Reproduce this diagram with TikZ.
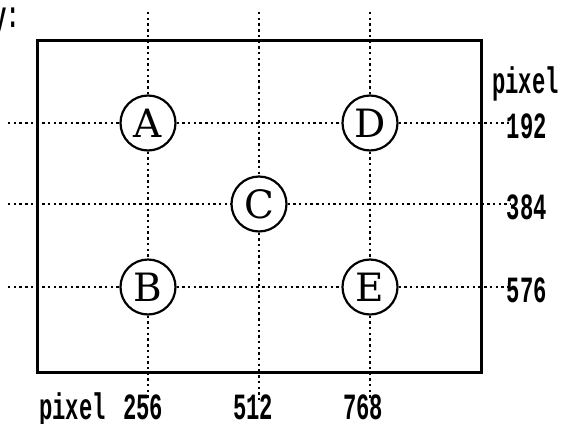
\documentclass[tikz,border=0pt]{standalone}
\usepackage{fontspec}
\newfontfamily\lblfont{Liberation Mono Bold}[FakeStretch=0.6]
\newfontfamily\ltrfont{DejaVu Serif}
\begin{document}
\begin{tikzpicture}[x=1pt,y=-1pt,
  grid/.style={line width=2.4pt,dash pattern=on 2.4pt off 3.3pt},
  spot/.style={circle,draw,line width=2.2pt,minimum size=55pt,inner sep=0pt,font=\ltrfont\fontsize{39}{39}\selectfont},
  lbl/.style={inner sep=0pt,font=\lblfont\fontsize{37}{37}\selectfont}]
\useasboundingbox (0,0) rectangle (561,423);
\clip (0,0) rectangle (561,423);
% frame
\draw[line width=3pt] (37,40) rectangle (481,372);
% nodes
\node[spot] (A) at (148,123) {A};
\node[spot] (B) at (148,287) {B};
\node[spot] (C) at (259,204) {C};
\node[spot] (D) at (370,123) {D};
\node[spot] (E) at (370,287) {E};
% labels
\node[lbl,anchor=east] (r1) at (547,126) {192};
\node[lbl,anchor=east] (r2) at (547,207) {384};
\node[lbl,anchor=east] (r3) at (547,290) {576};
\node[lbl,anchor=base east] (px) at (559,93) {pixel};
\node[lbl,anchor=base east] (yy) at (20,27) {y:};
\node[lbl,anchor=base west] (pb) at (39,419) {pixel};
\node[lbl,anchor=base] (b1) at (143,419) {256};
\node[lbl,anchor=base] (b2) at (253,419) {512};
\node[lbl,anchor=base] (b3) at (363,419) {768};
% free ends
\coordinate (t1) at (148,12); \coordinate (d1) at (148,401);
\coordinate (t2) at (259,12); \coordinate (d2) at (259,401);
\coordinate (t3) at (370,12); \coordinate (d3) at (370,401);
\coordinate (l1) at (8,123); \coordinate (l2) at (8,204); \coordinate (l3) at (8,287);
\coordinate (e1) at (511,123); \coordinate (e2) at (511,204); \coordinate (e3) at (511,287);
% dotted grid
\draw[grid] (t1) -- (A); \draw[grid] (A) -- (B); \draw[grid] (B) -- (d1);
\draw[grid] (t2) -- (C); \draw[grid] (C) -- (d2);
\draw[grid] (t3) -- (D); \draw[grid] (D) -- (E); \draw[grid] (E) -- (d3);
\draw[grid] (l1) -- (A); \draw[grid] (A) -- (D); \draw[grid] (D) -- (e1);
\draw[grid] (l2) -- (C); \draw[grid] (C) -- (e2);
\draw[grid] (l3) -- (B); \draw[grid] (B) -- (E); \draw[grid] (E) -- (e3);
\end{tikzpicture}
\end{document}
